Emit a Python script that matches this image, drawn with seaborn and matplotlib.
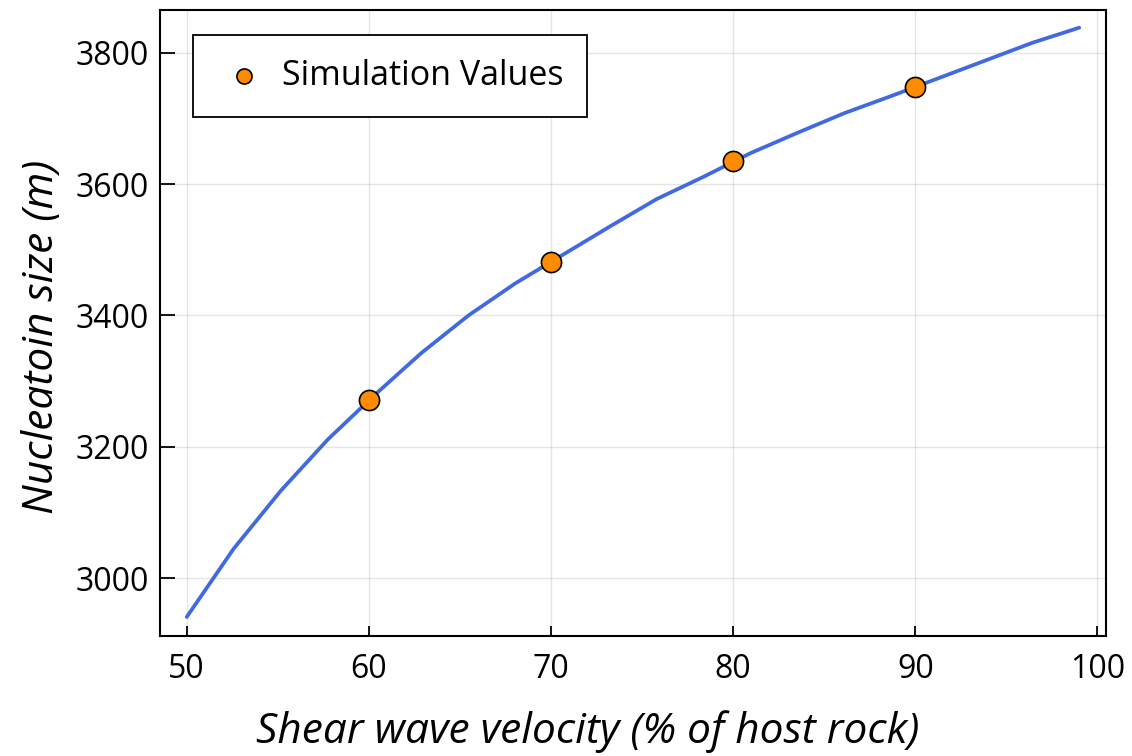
import matplotlib
matplotlib.use("Agg")
import matplotlib.pyplot as plt
import seaborn as sns
import pandas as pd

# Curve (model) values
curve_x = [50.0, 52.58, 55.16, 57.74, 60.32, 62.89, 65.47, 68.05, 70.63, 73.21,
           75.79, 78.37, 80.95, 83.53, 86.11, 88.68, 91.26, 93.84, 96.42, 99.0]
curve_y = [2941, 3045, 3133, 3211, 3279, 3343, 3400, 3449, 3492, 3535,
           3577, 3611, 3647, 3678, 3708, 3734, 3761, 3788, 3815, 3838]

# Simulation values
sim_x = [60, 70, 80, 90]
sim_y = [3271, 3482, 3635, 3747]

x_ticks = [50, 60, 70, 80, 90, 100]
y_ticks = [3000, 3200, 3400, 3600, 3800]

sns.set_theme(style="white")
plt.rcParams['font.family'] = ['Open Sans', 'DejaVu Sans']

curve = pd.DataFrame({"x": curve_x, "y": curve_y})
sim = pd.DataFrame({"x": sim_x, "y": sim_y})

fig = plt.figure(figsize=(11.32, 7.56), dpi=100)
ax = fig.add_axes([0.1413, 0.1587, 0.977 - 0.1413, 0.9868 - 0.1587])

sns.lineplot(data=curve, x="x", y="y", ax=ax, color="#4169E1", linewidth=2.7,
             legend=False, zorder=2)
sns.scatterplot(data=sim, x="x", y="y", ax=ax, color="#FF8C00", s=210,
                edgecolor="black", linewidth=1.2, label="Simulation Values", zorder=3)

ax.set_xlim(48.53, 100.47)
ax.set_ylim(2912, 3865)
ax.set_xticks(x_ticks)
ax.set_yticks(y_ticks)
ax.grid(True, color="black", alpha=0.1, linewidth=1.0)
ax.set_axisbelow(True)

for sp in ax.spines.values():
    sp.set_visible(True)
    sp.set_color("black")
    sp.set_linewidth(1.5)

ax.tick_params(axis="both", direction="in", width=1.3, color="black",
               labelsize=23, labelcolor="black", bottom=True, left=True,
               top=False, right=False)
ax.tick_params(axis="x", pad=12, length=7.5)
ax.tick_params(axis="y", pad=8, length=11)

ax.set_xlabel("Shear wave velocity (% of host rock)", fontsize=30.5, style="italic",
              color="black")
ax.set_ylabel("Nucleatoin size (m)", fontsize=30.5, style="italic",
              color="black")
ax.xaxis.label.set_va("center")
ax.yaxis.label.set_va("center")
ax.xaxis.set_label_coords(0.4524, -0.152)
ax.yaxis.set_label_coords(-0.1247, 0.4776)

leg = ax.legend(loc="upper left", bbox_to_anchor=(0.035, 0.96), borderaxespad=0,
                fontsize=24.5, frameon=True, fancybox=False, edgecolor="black",
                framealpha=1, borderpad=0.7, handlelength=1.6, handletextpad=0.3,
                markerscale=0.75, labelcolor="black")
leg.get_frame().set_linewidth(1.3)

fig.savefig("out.png", dpi=100)
